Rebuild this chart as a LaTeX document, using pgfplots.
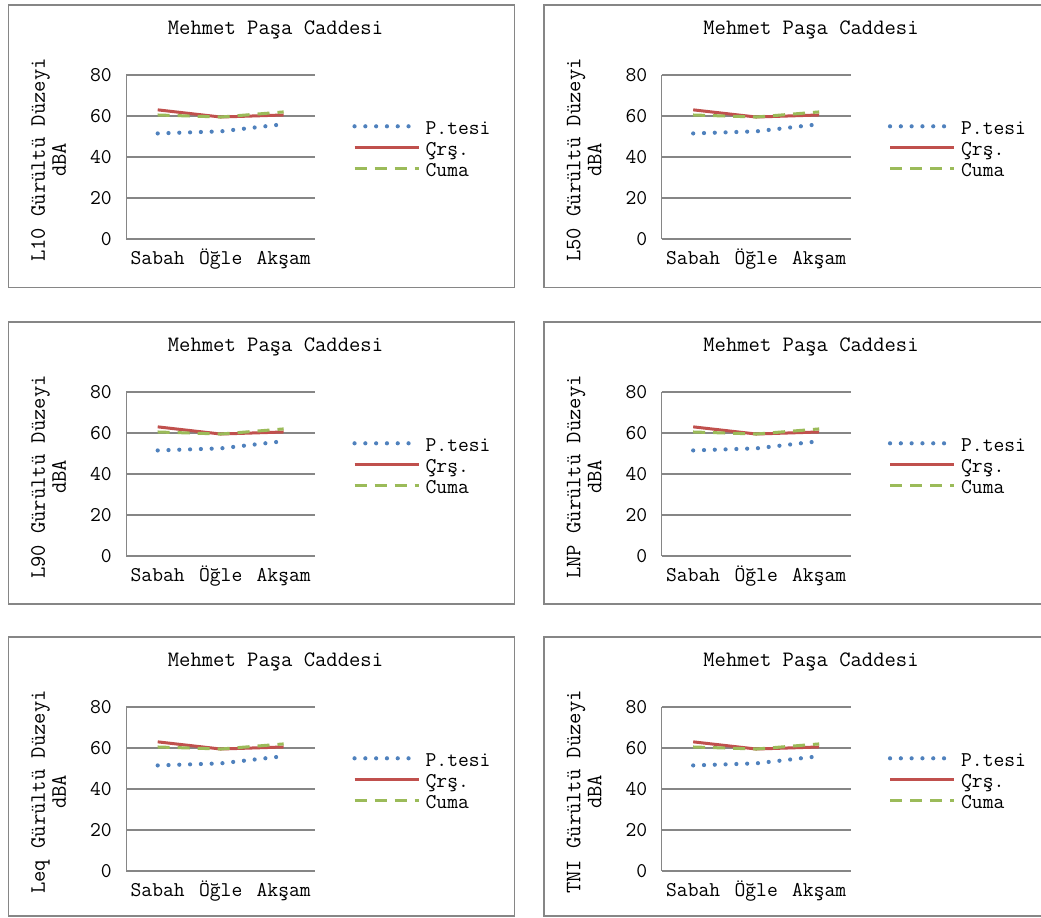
\documentclass[border=0pt]{standalone}
\usepackage{pgfplots}
\usepackage{pgfplotstable}
\pgfplotsset{compat=1.18}
\usepackage{fontspec}
\definecolor{cblue}{HTML}{4F81BD}
\definecolor{cred}{HTML}{C0504D}
\definecolor{cgreen}{HTML}{9BBB59}
\definecolor{cgrid}{HTML}{868686}
\newcommand{\fs}{\ttfamily\fontsize{21bp}{21bp}\selectfont}
\newcommand{\fl}{\ttfamily\fontsize{22bp}{21bp}\selectfont}

\pgfplotstableread{
x pt cr cu
0 51.5 63.0 60.5
1 52.5 59.5 59.5
2 56.0 60.5 62.0
}\datatab

\pgfplotsset{
  panel/.style={
    width=189bp, height=164bp, scale only axis,
    anchor=north west,
    xmin=-0.5, xmax=2.5, ymin=0, ymax=80,
    xtick={0,1,2}, xticklabels={Sabah,Öğle,Akşam},
    ytick={0,20,40,60,80},
    ymajorgrids, grid style={cgrid, line width=1.2bp},
    axis lines*=left, axis line style={cgrid, line width=1.2bp, -},
    major tick length=0pt,
    tick label style={font=\fs, black},
    yticklabel style={xshift=-11bp},
    xticklabel style={text height=14bp, text depth=4bp, yshift=-8bp},
    /pgf/number format/assume math mode=true,
    legend style={at={(1.196,0.728)}, anchor=north west, draw=none, fill=none,
      font=\fs, inner sep=0pt,
      nodes={inner sep=2bp, text height=13bp, text depth=4bp},
      /tikz/column sep=3bp},
    legend cell align=left,
    legend image code/.code={\draw[##1] (0bp,4bp) -- (64bp,4bp);},
  }
}

\newcommand{\panel}[4]{%
  \draw[cgrid, line width=1.5bp] ({#1*1bp},{(918-#2)*1bp}) rectangle ({(#1+506)*1bp},{(918-#2-#4)*1bp});
  \node[font=\fl] at ({(#1+267)*1bp},{(918-#2-25)*1bp}) {Mehmet Paşa Caddesi};
  \node[font=\fl, rotate=90, align=center] at ({(#1+40)*1bp},{(918-#2-155)*1bp}) {#3 Gürültü Düzeyi\\dBA};
  \begin{axis}[panel, at={({(#1+117.7)*1bp},{(918-#2-70)*1bp})}]
    \addplot[cblue, line width=4.2bp, line cap=round, dash pattern=on 0bp off 10.8bp] table[x=x,y=pt]{\datatab};
    \addlegendentry{P.tesi}
    \addplot[cred, line width=3bp] table[x=x,y=cr]{\datatab};
    \addlegendentry{Çrş.}
    \addplot[cgreen, line width=3bp, dash pattern=on 12bp off 8bp] table[x=x,y=cu]{\datatab};
    \addlegendentry{Cuma}
  \end{axis}
}

\begin{document}
\begin{tikzpicture}
\useasboundingbox (0,0) rectangle (1041bp,918bp);
\clip (0,0) rectangle (1041bp,918bp);
\panel{8.5}{5}{L10}{282.5}
\panel{544}{5}{L50}{282.5}
\panel{8.5}{322}{L90}{282}
\panel{544}{322}{LNP}{282}
\panel{8.5}{637}{Leq}{279}
\panel{544}{637}{TNI}{279}
\end{tikzpicture}
\end{document}
